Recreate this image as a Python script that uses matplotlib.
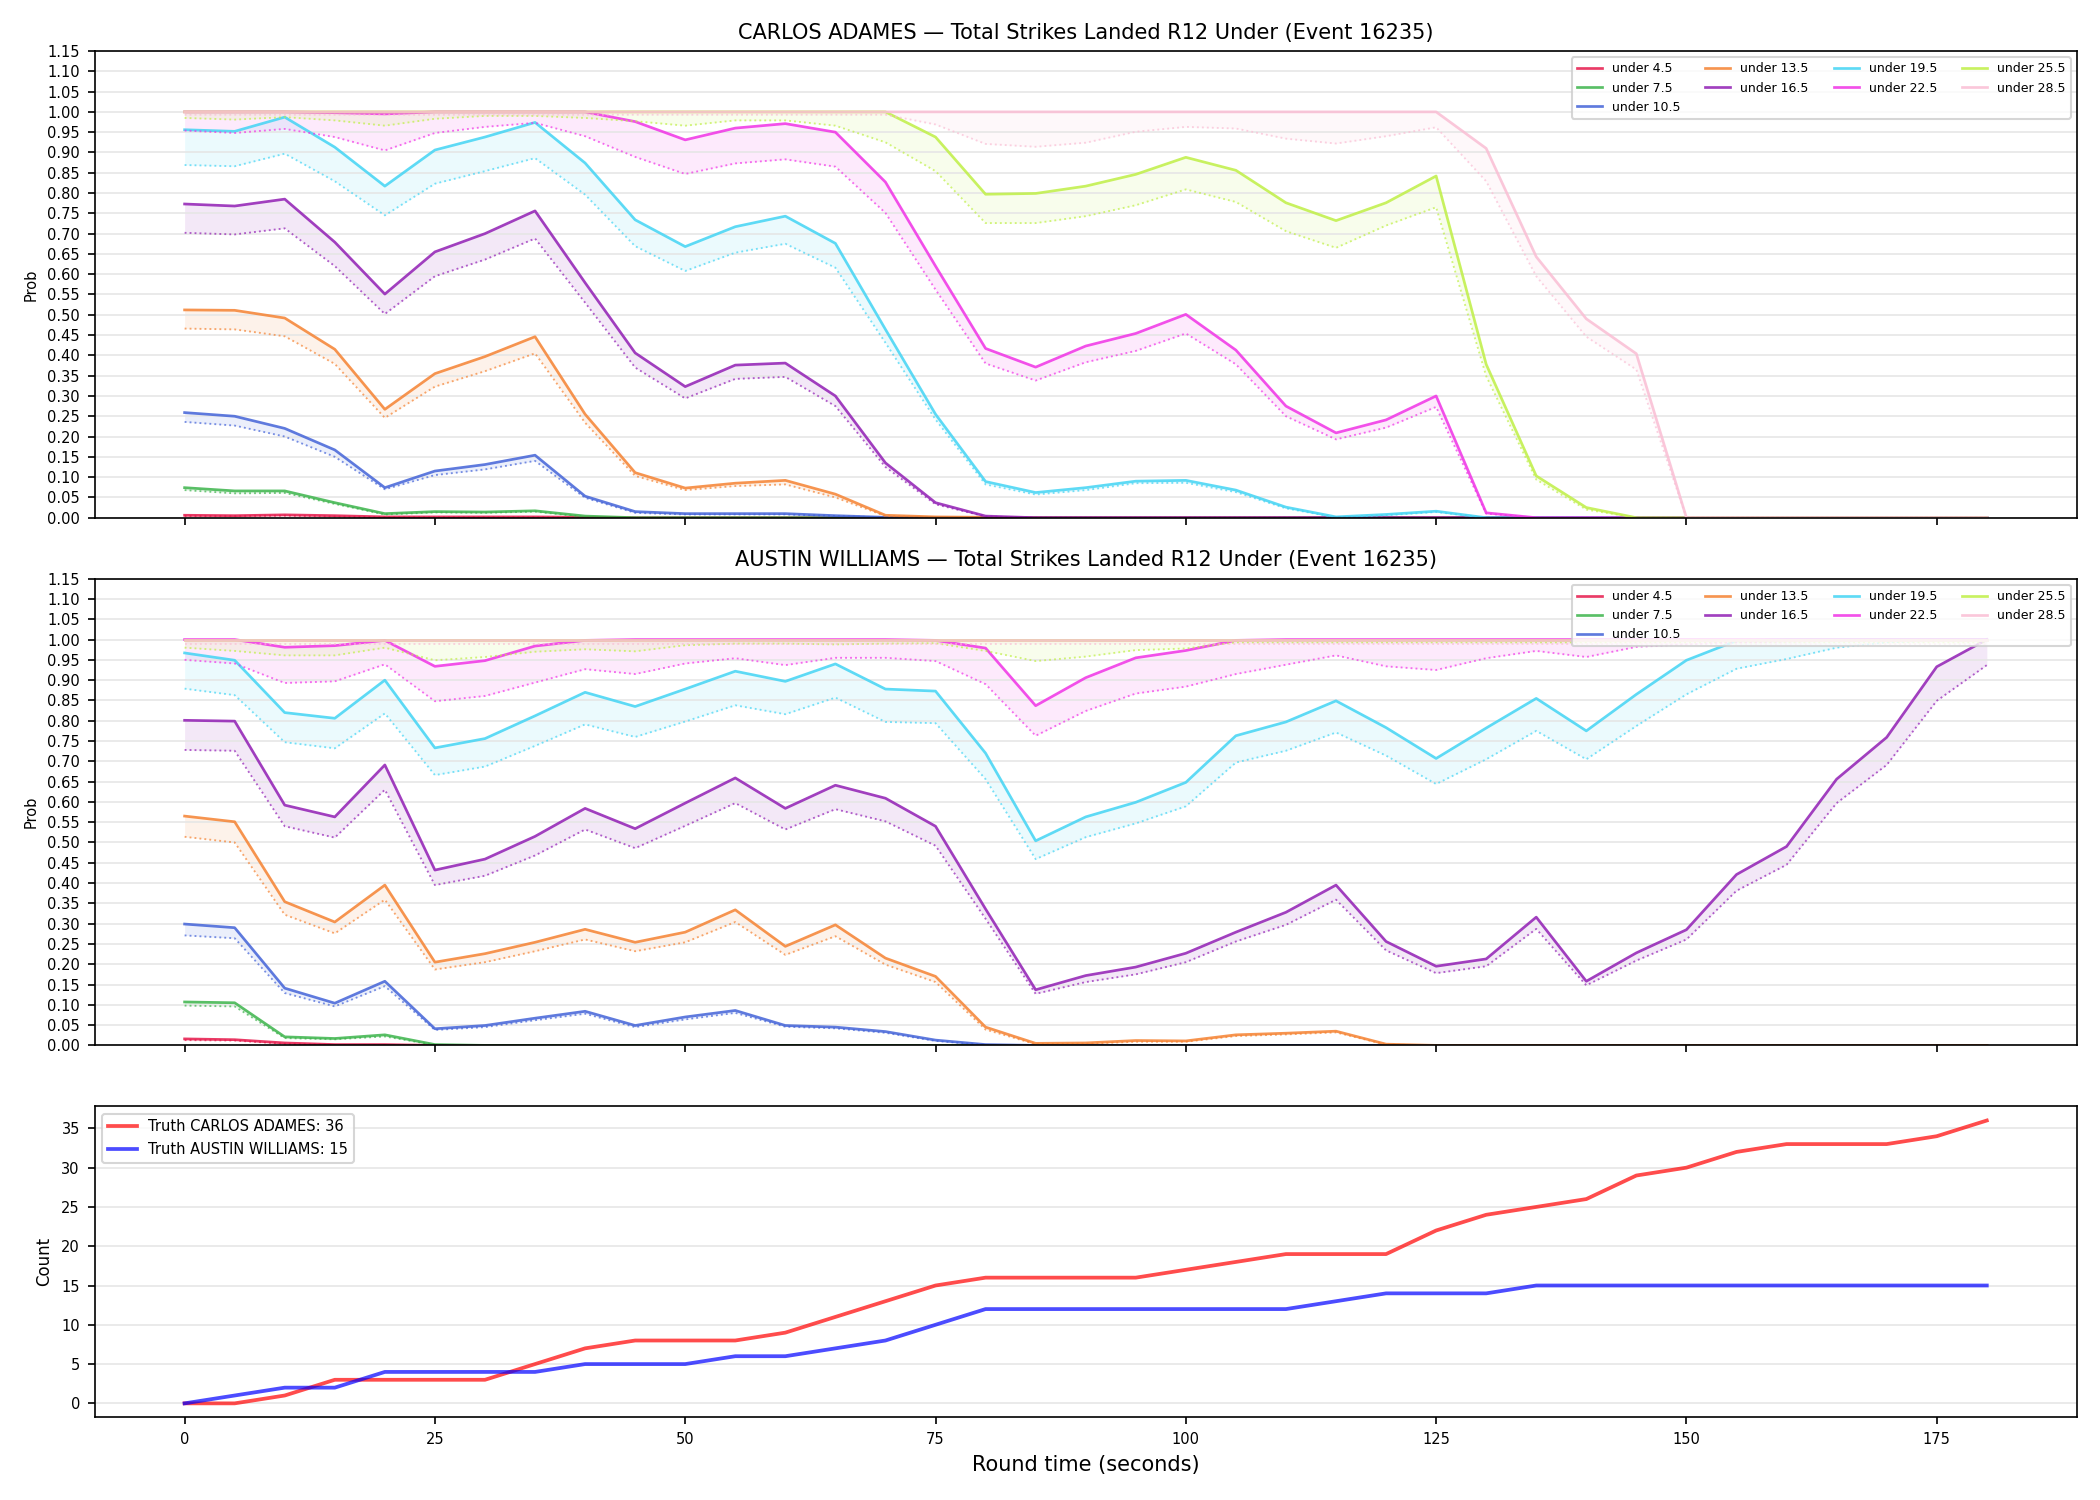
import matplotlib
matplotlib.use("Agg")
import matplotlib.pyplot as plt

# time grid (seconds)
times = list(range(0, 185, 5))

lines = ["under 4.5", "under 7.5", "under 10.5", "under 13.5", "under 16.5",
         "under 19.5", "under 22.5", "under 25.5", "under 28.5"]
colors = ["#e6194b", "#3cb44b", "#4363d8", "#f58231", "#911eb4",
          "#42d4f4", "#f032e6", "#bfef45", "#fabed4"]

# --- CARLOS ADAMES: upper (solid) and lower (dotted) probabilities ---
ca_45 = [.006, .005, .007, .005, .002, .002, .002, .002, .001] + [0] * 28
ca_45_lo = [.004, .004, .005, .003, .001, .001, .001, .001, 0] + [0] * 28
ca_75 = [.074, .066, .066, .037, .010, .015, .014, .017, .004] + [0] * 28
ca_75_lo = [.068, .060, .061, .034, .008, .013, .012, .015, .002] + [0] * 28
ca_105 = [.259, .250, .220, .167, .074, .115, .131, .154, .053, .015, .010, .010,
          .010, .005, .001] + [0] * 22
ca_105_lo = [.236, .227, .200, .150, .070, .105, .119, .140, .049, .012, .008, .008,
             .008, .004, .001] + [0] * 22
ca_135 = [.512, .511, .492, .415, .267, .355, .397, .446, .255, .111, .073, .085,
          .092, .058, .006, .002, .001] + [0] * 20
ca_135_lo = [.466, .464, .447, .379, .246, .323, .361, .405, .234, .103, .068, .078,
             .082, .050, .004, .001, 0] + [0] * 20
ca_165 = [.773, .768, .785, .679, .551, .655, .700, .756, .579, .406, .323, .376,
          .381, .300, .135, .037, .004] + [0] * 20
ca_165_lo = [.702, .698, .713, .620, .502, .595, .636, .688, .530, .370, .294, .342,
             .347, .275, .125, .033, .003] + [0] * 20
ca_195 = [.956, .952, .987, .913, .817, .906, .938, .974, .874, .734, .668, .717,
          .743, .676, .464, .255, .089, .062, .074, .090, .092, .068, .026, .002,
          .008, .016] + [0] * 11
ca_195_lo = [.869, .866, .897, .829, .745, .823, .854, .886, .796, .669, .608, .653,
             .675, .616, .431, .242, .082, .057, .068, .085, .086, .063, .023, .001,
             .006, .014] + [0] * 11
ca_225 = [1.0, 1.0, 1.0, .998, .995, 1.0, 1.0, 1.0, 1.0,
          .976, .931, .960, .971, .950, .827, .620, .417, .371, .423, .454, .501,
          .413, .275, .209, .241, .300, .012] + [0] * 10
ca_225_lo = [.954, .948, .958, .938, .905, .948, .963, .973, .940,
             .889, .847, .873, .883, .865, .751, .562, .380, .338, .383, .411, .454,
             .378, .250, .193, .222, .273, .010] + [0] * 10
ca_255 = [1.0] * 15 + [.938, .797, .799, .817, .846, .888, .856, .776, .732, .776,
                       .842, .378, .103, .025] + [0] * 8
ca_255_lo = [.985, .981, .987, .979, .966, .983, .990, .990, .985, .977, .966, .979,
             .979, .966, .925, .854, .726, .726, .743, .770, .809, .778, .706, .665,
             .720, .765, .349, .094, .020] + [0] * 8
ca_285 = [1.0] * 26 + [.910, .643, .490, .404] + [0] * 7
ca_285_lo = [.993] * 15 + [.969, .921, .914, .924, .951, .963, .959, .934, .922, .940,
                           .962, .829, .595, .446, .365] + [0] * 7

# --- AUSTIN WILLIAMS ---
aw_45 = [.016, .014, .006, .002, .002] + [0] * 32
aw_45_lo = [.013, .012, .004, .001, .001] + [0] * 32
aw_75 = [.107, .105, .021, .017, .026, .002] + [0] * 31
aw_75_lo = [.098, .096, .018, .015, .022, .001] + [0] * 31
aw_105 = [.299, .290, .141, .104, .158, .041, .049, .067, .084, .049, .070, .086,
          .049, .045, .034, .013, .002] + [0] * 20
aw_105_lo = [.271, .264, .129, .096, .146, .038, .045, .062, .078, .045, .064, .080,
             .046, .042, .031, .011, .001] + [0] * 20
aw_135 = [.565, .551, .354, .304, .395, .205, .226, .254, .286, .254, .279, .334,
          .244, .297, .215, .170, .045, .005, .006, .012, .011, .026, .030, .035,
          .003] + [0] * 12
aw_135_lo = [.514, .500, .322, .276, .359, .187, .205, .232, .261, .232, .254, .304,
             .223, .269, .199, .156, .039, .003, .004, .009, .009, .023, .027, .032,
             .002] + [0] * 12
aw_165 = [.801, .799, .592, .563, .691, .432, .459, .515, .584, .534, .597, .659,
          .584, .641, .609, .540, .336, .137, .172, .193, .227, .279, .328, .395,
          .256, .195, .213, .316, .158, .228, .285, .421, .490, .656, .759, .933, 1.0]
aw_165_lo = [.728, .726, .540, .512, .630, .395, .418, .468, .532, .486, .541, .597,
             .532, .582, .552, .492, .312, .127, .156, .175, .205, .256, .297, .359,
             .234, .178, .195, .287, .148, .209, .261, .381, .445, .597, .691, .849, .937]
aw_195 = [.967, .949, .820, .806, .900, .733, .756, .812, .870, .835, .878, .922,
          .897, .940, .878, .873, .720, .504, .563, .599, .648, .763, .797, .849,
          .783, .707, .782, .855, .775, .865, .949, .997, 1.0, 1.0, 1.0, 1.0, 1.0]
aw_195_lo = [.879, .863, .747, .732, .818, .666, .687, .738, .791, .760, .798, .838,
             .816, .857, .797, .794, .656, .459, .513, .547, .589, .697, .726, .771,
             .714, .644, .705, .775, .705, .787, .865, .928, .952, .980, .993, .997, 1.0]
aw_225 = [1.0, 1.0, .981, .985, .998, .934, .948, .984, .998, 1.0, 1.0, 1.0,
          1.0, 1.0, 1.0, .998, .979, .837, .906, .955, .973, .998, 1.0, 1.0] + [1.0] * 13
aw_225_lo = [.950, .941, .893, .897, .939, .848, .861, .894, .927, .915, .941, .954,
             .937, .955, .955, .947, .890, .763, .824, .867, .884, .915, .938, .961,
             .934, .925, .954, .972, .957, .982, .988, .993, .995, .997, .997, .998, .998]
aw_255 = [1.0] * 37
aw_255_lo = [.980, .972, .961, .961, .980, .949, .957, .970, .976, .971, .986, .990,
             .990, .988, .990, .991, .972, .947, .958, .974, .978, .993, .993, .993] + [.993] * 13
aw_285 = [1.0] * 37
aw_285_lo = [.988] * 37

# --- truth counts ---
truth_ca = [0, 0, 1, 3, 3, 3, 3, 5, 7, 8, 8, 8, 9, 11, 13, 15, 16, 16, 16, 16,
            17, 18, 19, 19, 19, 22, 24, 25, 26, 29, 30, 32, 33, 33, 33, 34, 36]
truth_aw = [0, 1, 2, 2, 4, 4, 4, 4, 5, 5, 5, 6, 6, 7, 8, 10, 12, 12, 12, 12,
            12, 12, 12, 13, 14, 14, 14, 15, 15, 15, 15, 15, 15, 15, 15, 15, 15]

ca_hi = [ca_45, ca_75, ca_105, ca_135, ca_165, ca_195, ca_225, ca_255, ca_285]
ca_lo = [ca_45_lo, ca_75_lo, ca_105_lo, ca_135_lo, ca_165_lo, ca_195_lo,
         ca_225_lo, ca_255_lo, ca_285_lo]
aw_hi = [aw_45, aw_75, aw_105, aw_135, aw_165, aw_195, aw_225, aw_255, aw_285]
aw_lo = [aw_45_lo, aw_75_lo, aw_105_lo, aw_135_lo, aw_165_lo, aw_195_lo,
         aw_225_lo, aw_255_lo, aw_285_lo]

fig, axes = plt.subplots(3, 1, figsize=(14, 10), dpi=150, sharex=True,
                         gridspec_kw={"height_ratios": [3, 3, 2]})
fig.subplots_adjust(left=0.045, right=0.989, top=0.966, bottom=0.055, hspace=0.147)

panels = [("CARLOS ADAMES", ca_hi, ca_lo), ("AUSTIN WILLIAMS", aw_hi, aw_lo)]
for ax, (name, his, los) in zip(axes[:2], panels):
    for lab, col, hi, lo in zip(lines, colors, his, los):
        ax.plot(times, hi, color=col, lw=1.3, alpha=0.85, label=lab)
        ax.plot(times, lo, color=col, lw=0.9, ls=":", alpha=0.7)
        ax.fill_between(times, lo, hi, color=col, alpha=0.1, lw=0)
    ax.set_title(f"{name} — Total Strikes Landed R12 Under (Event 16235)", fontsize=10)
    ax.set_ylim(0, 1.15)
    ax.set_yticks([i * 0.05 for i in range(24)])
    ax.set_yticklabels([f"{i * 0.05:.2f}" for i in range(24)])
    ax.set_ylabel("Prob", fontsize=7)
    ax.tick_params(labelsize=7)
    ax.grid(axis="y", color="#e6e6e6", lw=0.8)
    ax.legend(loc="upper right", ncol=4, fontsize=6)

ax = axes[2]
ax.plot(times, truth_ca, color="red", lw=1.8, alpha=0.7,
        label=f"Truth CARLOS ADAMES: {truth_ca[-1]}")
ax.plot(times, truth_aw, color="blue", lw=1.8, alpha=0.7,
        label=f"Truth AUSTIN WILLIAMS: {truth_aw[-1]}")
ax.set_ylabel("Count", fontsize=8)
ax.set_xlabel("Round time (seconds)", fontsize=10)
ax.tick_params(labelsize=7)
ax.grid(axis="y", color="#e6e6e6", lw=0.8)
ax.legend(loc="upper left", fontsize=7)

fig.savefig("out.png", dpi=150)
